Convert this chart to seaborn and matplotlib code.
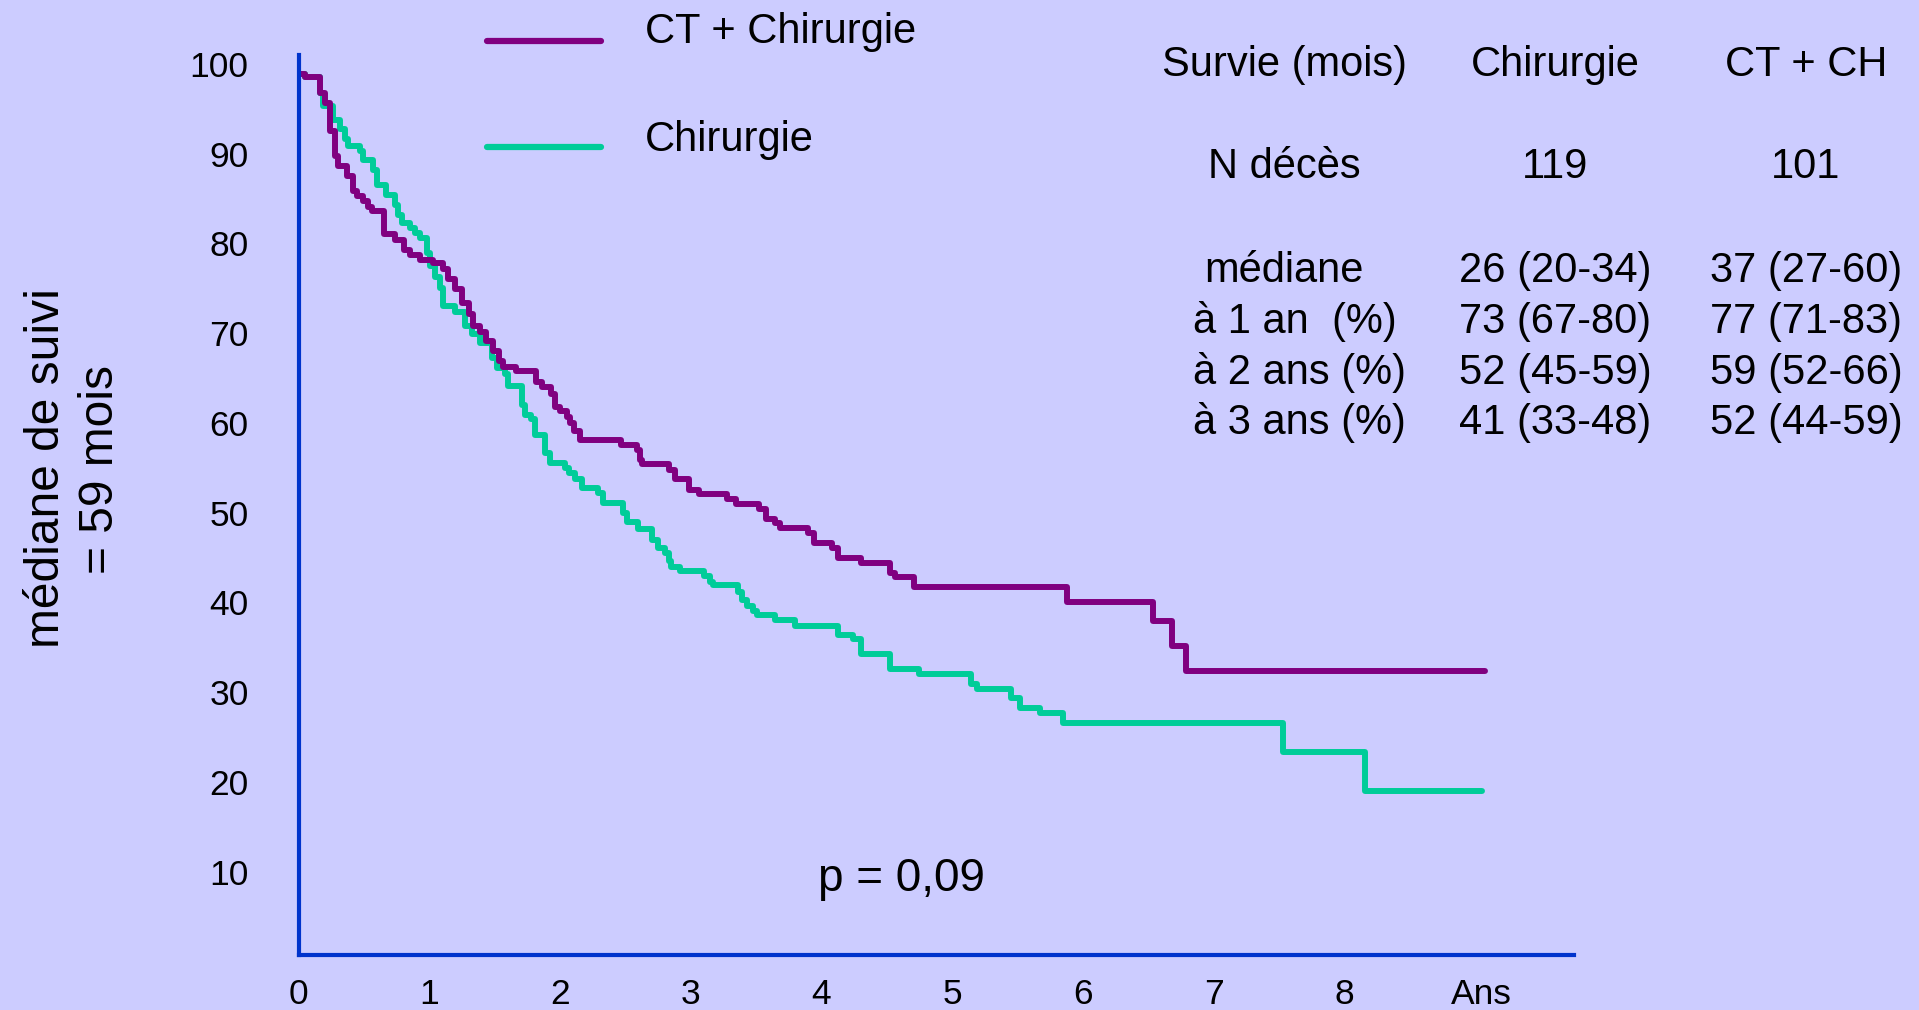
import numpy as np
import pandas as pd
import matplotlib.pyplot as plt
from matplotlib.lines import Line2D
from matplotlib.transforms import ScaledTranslation
import seaborn as sns

# courbes de survie (annees, % survie)
ct_t = [0.0, 0.05, 0.164, 0.20, 0.24, 0.28, 0.30, 0.368, 0.42, 0.445, 0.495, 0.53, 0.56,
        0.65, 0.74, 0.81, 0.85, 0.93, 1.03, 1.107, 1.145, 1.197, 1.25, 1.30, 1.337, 1.39,
        1.43, 1.49, 1.53, 1.566, 1.66, 1.82, 1.86, 1.93, 1.96, 2.0, 2.05, 2.077, 2.107,
        2.15, 2.47, 2.59, 2.61, 2.63, 2.836, 2.88, 2.99, 3.06, 3.275, 3.35, 3.52, 3.576,
        3.645, 3.68, 3.90, 3.94, 4.08, 4.125, 4.30, 4.525, 4.56, 4.71, 5.88, 6.54, 6.685,
        6.79, 9.08]
ct_s = [100, 99.6, 97.9, 96.8, 93.6, 90.8, 89.7, 88.6, 86.9, 86.35, 85.8, 85.2, 84.7,
        82.1, 81.5, 80.4, 79.85, 79.3, 78.9, 78.2, 77.1, 76.0, 74.5, 73.2, 71.9, 71.2,
        70.2, 69.1, 68.0, 67.3, 66.85, 65.7, 65.1, 64.3, 62.9, 62.4, 61.8, 61.1, 60.2,
        59.15, 58.6, 58.1, 57.0, 56.5, 55.9, 54.8, 53.6, 53.2, 52.6, 52.1, 51.5, 50.4,
        49.9, 49.4, 48.8, 47.7, 47.2, 46.1, 45.55, 44.4, 43.9, 42.8, 41.2, 39.0, 36.3,
        33.5, 33.5]

chir_t = [0.0, 0.05, 0.164, 0.19, 0.266, 0.317, 0.355, 0.38, 0.47, 0.495, 0.57, 0.60,
          0.67, 0.74, 0.76, 0.79, 0.85, 0.89, 0.93, 0.98, 1.005, 1.04, 1.08, 1.107, 1.197,
          1.273, 1.33, 1.39, 1.48, 1.515, 1.58, 1.60, 1.707, 1.73, 1.78, 1.81, 1.885, 1.92,
          2.04, 2.07, 2.115, 2.166, 2.29, 2.33, 2.48, 2.51, 2.60, 2.70, 2.75, 2.80, 2.83,
          2.85, 2.92, 3.10, 3.15, 3.17, 3.36, 3.39, 3.43, 3.48, 3.505, 3.645, 3.80, 4.13,
          4.24, 4.30, 4.525, 4.75, 5.145, 5.19, 5.45, 5.52, 5.67, 5.85, 7.53, 8.155, 9.05]
chir_s = [100, 99.6, 97.9, 96.4, 94.9, 93.8, 92.7, 92.0, 91.4, 90.4, 89.3, 87.6,
          86.5, 85.4, 84.3, 83.4, 82.8, 82.3, 81.7, 80.0, 78.55, 77.4, 76.1, 74.1, 73.5,
          71.9, 71.0, 70.0, 68.3, 67.2, 66.5, 65.25, 63.1, 62.0, 61.5, 59.8, 57.75, 56.6,
          56.1, 55.5, 54.8, 53.85, 53.3, 52.2, 51.05, 50.1, 49.3, 48.1, 47.15, 46.6, 45.7,
          45.1, 44.55, 44.0, 43.4, 43.0, 42.3, 41.4, 40.7, 40.2, 39.65, 39.1, 38.5, 37.5,
          37.0, 35.3, 33.7, 33.1, 32.0, 31.5, 30.4, 29.3, 28.8, 27.65, 24.4, 20.1, 20.1]

groupes = ['CT + Chirurgie', 'Chirurgie']
couleurs = {'CT + Chirurgie': '#800080', 'Chirurgie': '#00CC99'}

y_ticks = [10, 20, 30, 40, 50, 60, 70, 80, 90, 100]
x_ticks = [0, 1, 2, 3, 4, 5, 6, 7, 8, 9.05]
x_labels = ['0', '1', '2', '3', '4', '5', '6', '7', '8', 'Ans']
x_minor = [0.5, 1.5, 2.5, 3.5, 4.5, 5.5, 6.5, 7.5]

# tableau
col_entete = ['Survie (mois)', 'N décès', 'médiane', 'à 1 an  (%)', 'à 2 ans (%)', 'à 3 ans (%)']
col_chir = ['Chirurgie', '119', '26 (20-34)', '73 (67-80)', '52 (45-59)', '41 (33-48)']
col_ctch = ['CT + CH', '101', '37 (27-60)', '77 (71-83)', '59 (52-66)', '52 (44-59)']

df = pd.concat([
    pd.DataFrame({'t': ct_t, 's': ct_s, 'groupe': groupes[0]}),
    pd.DataFrame({'t': chir_t, 's': chir_s, 'groupe': groupes[1]}),
])

W, H = 1919, 1010
bg = '#CCCCFF'
bleu = '#0033CC'

sns.set_style('white')
plt.rcParams['font.family'] = ['Liberation Sans', 'DejaVu Sans']
plt.rcParams['text.color'] = 'black'

fig = plt.figure(figsize=(W / 100, H / 100), dpi=100, facecolor=bg)
ax = fig.add_axes([298.6 / W, 1 - 954.5 / H, (1573.7 - 298.6) / W, (954.5 - 55) / H])
ax.set_facecolor(bg)

# vert dessine d'abord, violet par-dessus
sns.lineplot(data=df, x='t', y='s', hue='groupe', hue_order=[groupes[1], groupes[0]],
             palette=couleurs, estimator=None, drawstyle='steps-post', linewidth=4.3,
             legend=False, ax=ax, solid_capstyle='round', solid_joinstyle='round')

ax.set_xlim(0, 9.755)
ax.set_ylim(1.87, 102.1)
ax.set_xlabel('')
ax.set_ylabel('')
for side in ['top', 'right']:
    ax.spines[side].set_visible(False)
for side in ['left', 'bottom']:
    ax.spines[side].set_color(bleu)
    ax.spines[side].set_linewidth(3.0)

ax.set_yticks(y_ticks)
ax.set_yticklabels([str(v) for v in y_ticks])
ax.set_xticks(x_ticks)
ax.set_xticklabels(x_labels)
ax.set_xticks(x_minor, minor=True)
ax.tick_params(axis='y', direction='out', length=8, width=2.6, color=bleu,
               labelcolor='black', labelsize=25.5, pad=28)
ax.tick_params(axis='x', which='both', direction='out', length=7, width=2.6, color=bleu,
               labelcolor='black', labelsize=25.5, pad=10)
ax.xaxis.get_major_ticks()[-1].tick1line.set_visible(False)

decal = ScaledTranslation(0, -3 / 100, fig.dpi_scale_trans)
for lab in ax.get_yticklabels():
    lab.set_va('baseline')
    lab.set_transform(lab.get_transform() + decal)


def fx(px):
    return px / W


def fy(py):
    return 1 - py / H


# legende
for nom, ly, ty in [(groupes[0], 41, 42.7), (groupes[1], 146.7, 150.7)]:
    fig.add_artist(Line2D([fx(486.7), fx(600.7)], [fy(ly), fy(ly)], color=couleurs[nom],
                          linewidth=4.5, solid_capstyle='round'))
    fig.text(fx(645), fy(ty), nom, fontsize=30, ha='left', va='baseline')

# tableau
lignes = [76, 178, 282, 333, 384, 434]
for i, yb in enumerate(lignes):
    if i < 3:
        fig.text(fx(1284), fy(yb), col_entete[i], fontsize=30, ha='center', va='baseline')
    else:
        fig.text(fx(1193), fy(yb), col_entete[i], fontsize=30, ha='left', va='baseline')
    fig.text(fx(1555), fy(yb), col_chir[i], fontsize=30, ha='center', va='baseline')
    fig.text(fx(1806), fy(yb), col_ctch[i], fontsize=30, ha='center', va='baseline')

fig.text(fx(818), fy(891), 'p = 0,09', fontsize=33, ha='left', va='baseline')

fig.text(fx(59), fy(468.5), 'médiane de suivi', fontsize=34.5, rotation=90,
         rotation_mode='anchor', ha='center', va='baseline')
fig.text(fx(113), fy(470), '= 59 mois', fontsize=34.5, rotation=90,
         rotation_mode='anchor', ha='center', va='baseline')

fig.savefig('out.png', dpi=100, facecolor=bg)
